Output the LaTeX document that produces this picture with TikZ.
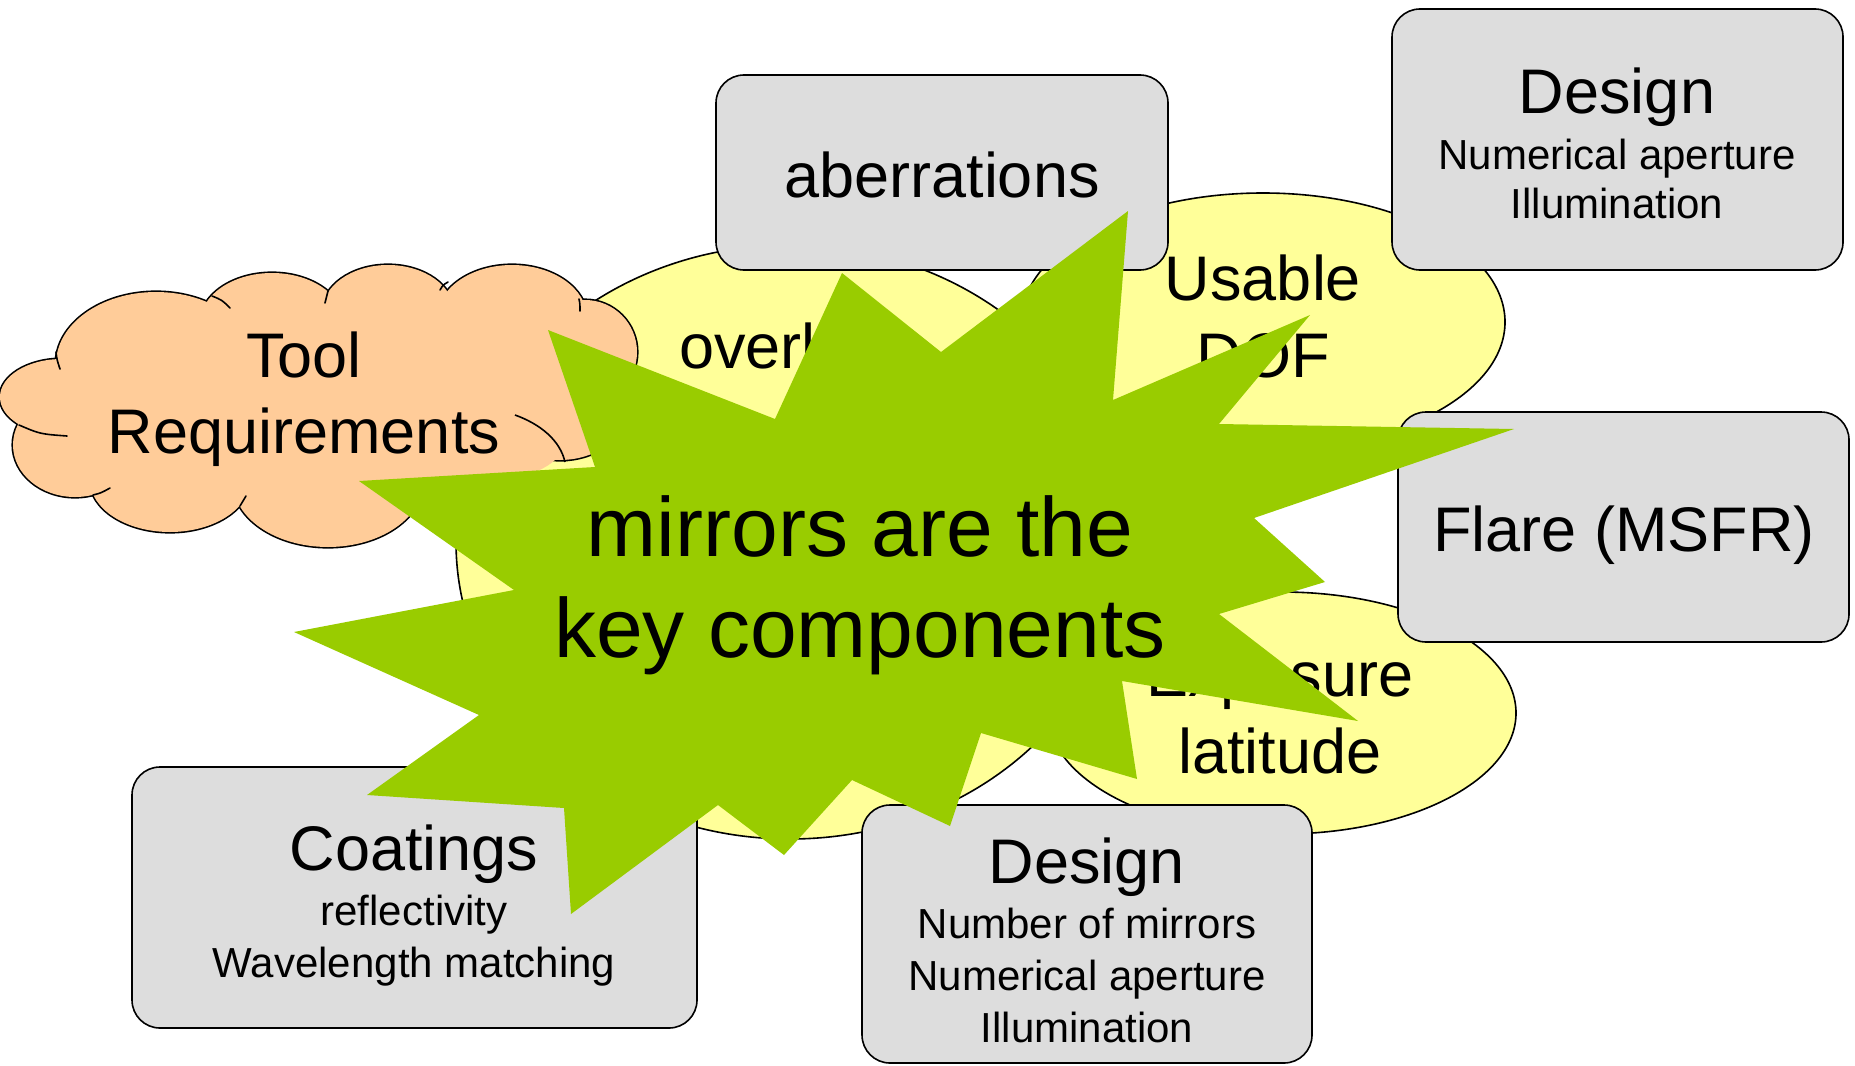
\documentclass[tikz,border=0pt]{standalone}
\usepackage{fontspec}
\setmainfont{Liberation Sans}
\usetikzlibrary{shapes.geometric}
\definecolor{ylw}{HTML}{FFFF99}
\definecolor{gry}{HTML}{DDDDDD}
\definecolor{pch}{HTML}{FFCC99}
\definecolor{grn}{HTML}{99CC00}
\tikzset{
  oval/.style={ellipse, draw=black, fill=ylw, line width=0.8pt, inner sep=0pt},
  rbox/.style={rectangle, rounded corners=14pt, draw=black, fill=gry, line width=0.8pt, inner sep=0pt},
  bigtxt/.style={font=\fontsize{31.5}{38}\selectfont, inner sep=0pt, anchor=base},
  subtxt/.style={font=\fontsize{21}{25}\selectfont, inner sep=0pt, anchor=base},
  startxt/.style={font=\fontsize{42}{50}\selectfont, inner sep=0pt, anchor=base},
  tail/.style={line width=0.8pt, line cap=round},
}
\begin{document}
\begin{tikzpicture}[x=0.5pt,y=-0.5pt]
\useasboundingbox (0,0) rectangle (1855,1065);
% yellow ellipses
\node[oval, minimum width=334pt, minimum height=297pt] (ov) at (790,542) {};
\node[bigtxt, anchor=base west] (ovt) at (679,368) {overlay};
\node[oval, minimum width=242pt, minimum height=129pt] (dof) at (1263,322) {};
\node[bigtxt] (dof1) at (1263,300) {Usable};
\node[bigtxt] (dof2) at (1263,377) {DOF};
\node[oval, minimum width=234pt, minimum height=121pt] (exl) at (1282,713) {};
\node[bigtxt] (exl1) at (1280,696) {Exposure};
\node[bigtxt] (exl2) at (1280,773) {latitude};
% cloud
\foreach \cx/\cy/\rx/\ry in {156/364/100/72, 272/323/72/50, 388/312/66/47, 512/318/75/53, 585/352/52/52, 560/395/75/65, 328/482/95/65, 170/480/80/52, 75/445/62/52, 62/397/62/38}
  \draw[line width=1.6pt] (\cx,\cy) ellipse [x radius=\rx, y radius=\ry];
\foreach \cx/\cy/\rx/\ry in {156/364/100/72, 272/323/72/50, 388/312/66/47, 512/318/75/53, 585/352/52/52, 560/395/75/65, 328/482/95/65, 170/480/80/52, 75/445/62/52, 62/397/62/38}
  \fill[pch] (\cx,\cy) ellipse [x radius=\rx, y radius=\ry];
\fill[pch] (330,400) ellipse [x radius=240, y radius=95];
\fill[pch] (490,440) ellipse [x radius=75, y radius=40];
\draw[line width=0.8pt] (515,415) .. controls (540,424) and (560,440) .. (565,462);
\draw[tail] (56,352) .. controls (57,360) .. (60,369);
\draw[tail] (212,296) .. controls (222,300) .. (230,308);
\draw[tail] (328,291) .. controls (327,297) .. (325,303);
\draw[tail] (440,290) .. controls (443,285) .. (448,282);
\draw[tail] (579,299) .. controls (580,304) .. (580,311);
\draw[tail] (19,425) .. controls (40,434) .. (67,436);
\draw[tail] (93,495) .. controls (101,493) .. (110,488);
\draw[tail] (240,506) .. controls (243,501) .. (246,496);
\node[bigtxt] (tool1) at (304,377) {Tool};
\node[bigtxt] (tool2) at (304,453) {Requirements};
% boxes
\node[rbox, minimum width=226pt, minimum height=97.5pt] (abr) at (942,172.5) {};
\node[bigtxt] (abrt) at (942,197.5) {aberrations};
\node[rbox, minimum width=225.5pt, minimum height=130.5pt] (des1) at (1617.5,139.5) {};
\node[bigtxt] (des1a) at (1617,113) {Design};
\node[subtxt] (des1b) at (1617,169) {Numerical aperture};
\node[subtxt] (des1c) at (1617,218) {Illumination};
\node[rbox, minimum width=225.5pt, minimum height=115pt] (flr) at (1623.5,527) {};
\node[bigtxt] (flrt) at (1624,551) {Flare (MSFR)};
\node[rbox, minimum width=282.5pt, minimum height=130.5pt] (coat) at (414.5,897.5) {};
\node[bigtxt] (coata) at (414,870) {Coatings};
\node[subtxt] (coatb) at (414,925) {reflectivity};
\node[subtxt] (coatc) at (414,977) {Wavelength matching};
\node[rbox, minimum width=225pt, minimum height=129pt] (des2) at (1087,934) {};
\node[bigtxt] (des2a) at (1087,883) {Design};
\node[subtxt] (des2b) at (1087,938) {Number of mirrors};
\node[subtxt] (des2c) at (1087,990) {Numerical aperture};
\node[subtxt] (des2d) at (1087,1042) {Illumination};
% star
\fill[grn] (1128,211) -- (1113,400) -- (1310,315) -- (1219,424) -- (1514,429) -- (1254,518)
  -- (1325,582) -- (1219,614) -- (1358,721) -- (1122,681) -- (1137,779) -- (981,733)
  -- (950,826) -- (852,780) -- (784,855) -- (718,805) -- (571,914) -- (564,808)
  -- (367,795) -- (479,715) -- (294,632) -- (514,590) -- (359,481) -- (595,467)
  -- (548,330) -- (775,419) -- (842,273) -- (941,352) -- cycle;
\node[startxt] (st1) at (860,556) {mirrors are the};
\node[startxt] (st2) at (860,657) {key components};
\end{tikzpicture}
\end{document}
